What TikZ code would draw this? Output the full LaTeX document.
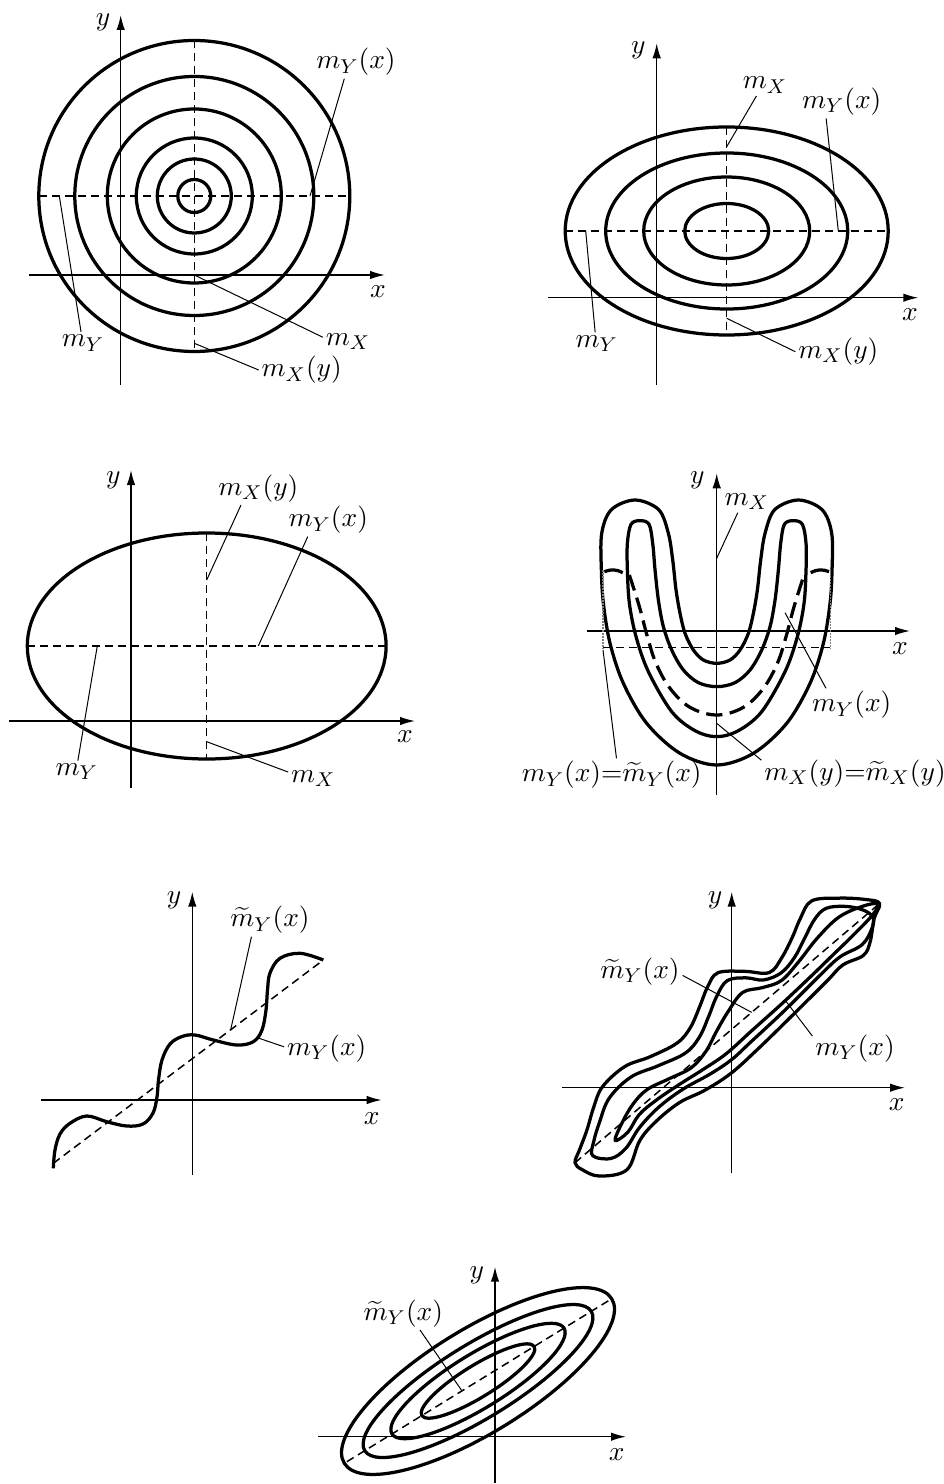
\documentclass[tikz,border=0pt]{standalone}
\usepackage{tikz}
\usetikzlibrary{arrows.meta}

\begin{document}
\begin{tikzpicture}[
		x=0.4pt, y=-0.4pt,
		axis/.style={-{Latex[length=6pt, width=3.4pt]}, line width=0.6pt},
		contour/.style={line width=1.3pt, line join=round},
		mean/.style={line width=0.6pt, dash pattern=on 3.2pt off 2pt},
		mean thick/.style={line width=1.3pt, dash pattern=on 6.5pt off 3pt},
		guide/.style={line width=0.5pt, gray, dash pattern=on 0.6pt off 0.6pt},
		leader/.style={line width=0.4pt},
		tag/.style={inner sep=1pt, font=\fontsize{11}{13}\selectfont},
	]
	\useasboundingbox (0,0) rectangle (943,1484);

	% Panel 1: circles
	\draw[axis] (29,275) -- (385,275);
	\draw[axis] (120.7,385) -- (120.7,15);
	\node[tag] (x 1) at (378,292) {$x$};
	\node[tag] (y 1) at (103,22) {$y$};
	\foreach \r in {155.5,119.5,87,58,37,16.5}
		\draw[contour] (194.3,196) circle[radius=\r];
	\draw[mean] (38.8,196) -- (349.8,196);
	\draw[mean] (194.3,40.5) -- (194.3,351.5);
	\coordinate (pt mYx 1) at (310,196);
	\coordinate (pt mY 1) at (59.3,196);
	\coordinate (pt mX 1) at (194.3,275);
	\coordinate (pt mXy 1) at (194.3,343.3);
	\node[tag] (mYx 1) at (356,62) {$m_Y(x)$};
	\node[tag] (mY 1) at (83,343) {$m_Y$};
	\node[tag] (mX 1) at (348,341.7) {$m_X$};
	\node[tag] (mXy 1) at (301.7,370) {$m_X(y)$};
	\draw[leader] (pt mYx 1) -- (mYx 1.235);
	\draw[leader] (pt mY 1) -- (mY 1.100);
	\draw[leader] (pt mX 1) -- (mX 1.170);
	\draw[leader] (pt mXy 1) -- (mXy 1.west);

	% Panel 2: ellipses
	\draw[axis] (548.3,297.7) -- (918.3,297.7);
	\draw[axis] (656.7,385) -- (656.7,43.3);
	\node[tag] (x 2) at (910,315) {$x$};
	\node[tag] (y 2) at (638.3,50) {$y$};
	\foreach \a/\b in {161.5/104,121/78,83/54,42/27.5}
		\draw[contour] (726.7,231) ellipse[x radius=\a, y radius=\b];
	\draw[mean] (565.2,231) -- (888.2,231);
	\draw[mean] (726.7,127) -- (726.7,335);
	\coordinate (pt mX 2) at (726.7,146.7);
	\coordinate (pt mYx 2) at (838.3,231);
	\coordinate (pt mY 2) at (585.7,231);
	\coordinate (pt mXy 2) at (726.7,318.3);
	\node[tag] (mX 2) at (765,85) {$m_X$};
	\node[tag] (mYx 2) at (841.7,101.7) {$m_Y(x)$};
	\node[tag] (mY 2) at (596.7,343.3) {$m_Y$};
	\node[tag] (mXy 2) at (838.3,351.7) {$m_X(y)$};
	\draw[leader] (pt mX 2) -- (mX 2.232);
	\draw[leader] (pt mYx 2) -- (mYx 2.227);
	\draw[leader] (pt mY 2) -- (mY 2.98);
	\draw[leader] (pt mXy 2) -- (mXy 2.west);

	% Panel 3: one ellipse
	\draw[axis] (9.3,721) -- (415,721);
	\draw[axis] (131,788.3) -- (131,470);
	\node[tag] (x 3) at (405,736.7) {$x$};
	\node[tag] (y 3) at (113.3,480) {$y$};
	\draw[contour] (206.7,646) ellipse[x radius=179.4, y radius=113];
	\draw[mean] (27.3,646) -- (386.1,646);
	\draw[mean] (206.7,533) -- (206.7,759);
	\coordinate (pt mXy 3) at (206.7,580);
	\coordinate (pt mYx 3) at (258.3,646);
	\coordinate (pt mY 3) at (97.3,646);
	\coordinate (pt mX 3) at (206.7,741.7);
	\node[tag] (mXy 3) at (258.3,488.3) {$m_X(y)$};
	\node[tag] (mYx 3) at (328.3,520) {$m_Y(x)$};
	\node[tag] (mY 3) at (76.7,771.7) {$m_Y$};
	\node[tag] (mX 3) at (313.3,778.3) {$m_X$};
	\draw[leader] (pt mXy 3) -- (mXy 3.224);
	\draw[leader] (pt mYx 3) -- (mYx 3.219);
	\draw[leader] (pt mY 3) -- (mY 3.84);
	\draw[leader] (pt mX 3) -- (mX 3.166);

	% Panel 4: U shaped band
	\draw[axis] (587.3,631) -- (910,631);
	\draw[axis] (716.7,795) -- (716.7,473.3);
	\node[tag] (x 4) at (900,648.3) {$x$};
	\node[tag] (y 4) at (697.3,480) {$y$};
	\begin{scope}[shift={(716.7,460)}, scale=1/3]
		\draw[contour] plot[smooth cycle, tension=0.55] coordinates {
			(0,610) (-40,600) (-70,570) (-95,520) (-110,460) (-122,390) (-132,300)
			(-145,220) (-174,149) (-245,120) (-316,149) (-345,220) (-346,330)
			(-340,430) (-320,550) (-280,670) (-210,790) (-110,880) (0,915)
			(110,880) (210,790) (280,670) (320,550) (340,430) (346,330)
			(345,220) (316,149) (245,120) (174,149) (145,220) (132,300)
			(122,390) (110,460) (95,520) (70,570) (40,600)};
		\draw[contour] plot[smooth cycle, tension=0.55] coordinates {
			(0,680) (-55,668) (-100,630) (-135,570) (-160,500) (-175,420) (-185,330)
			(-192,250) (-203,193) (-230,182) (-257,193) (-268,250) (-268,330)
			(-262,430) (-242,530) (-205,635) (-135,755) (-65,812) (0,830)
			(65,812) (135,755) (205,635) (242,530) (262,430) (268,330)
			(268,250) (257,193) (230,182) (203,193) (192,250) (185,330)
			(175,420) (160,500) (135,570) (100,630) (55,668)};
		\draw[mean thick] plot[smooth, tension=0.6] coordinates {
			(-262,345) (-232,440) (-208,530) (-182,610) (-140,685) (-80,742) (0,765)
			(80,742) (140,685) (182,610) (208,530) (232,440) (262,345)};
		\draw[contour] (-337,335) to[bend left=25] (-282,338);
		\draw[contour] (282,338) to[bend left=25] (337,335);
	\end{scope}
	\draw[guide] (603,570) -- (603,648.3);
	\draw[guide] (830.4,570) -- (830.4,648.3);
	\draw[mean] (603,647.7) -- (830.4,647.7);
	\coordinate (pt mX 4) at (716.7,558.3);
	\coordinate (pt mYx 4) at (785,612.7);
	\coordinate (pt mXyeq 4) at (716.7,723.3);
	\coordinate (pt mYxeq 4) at (603,650);
	\node[tag] (mX 4) at (746.7,501.7) {$m_X$};
	\node[tag] (mYx 4) at (851.7,705) {$m_Y(x)$};
	\node[tag] (mXyeq 4) at (855,773.3) {$m_X(y){=}\widetilde{m}_X(y)$};
	\node[tag] (mYxeq 4) at (611.7,775) {$m_Y(x){=}\widetilde{m}_Y(x)$};
	\draw[leader] (pt mX 4) -- (mX 4.231);
	\draw[leader] (pt mYx 4) -- (mYx 4.147);
	\draw[leader] (pt mXyeq 4) -- (mXyeq 4.172);
	\draw[leader] (pt mYxeq 4) -- (mYxeq 4.74);

	% Panel 5: wavy regression
	\draw[axis] (40.7,1100) -- (381.7,1100);
	\draw[axis] (192.3,1175) -- (192.3,891.7);
	\node[tag] (x 5) at (371.7,1118.3) {$x$};
	\node[tag] (y 5) at (174,900) {$y$};
	\draw[mean] (53.3,1163.3) -- (323.3,960);
	\draw[contour] plot[smooth, tension=0.6] coordinates {
		(53.3,1168.3) (55,1150) (60,1134) (70,1123.3) (86.7,1116) (106.7,1121.7)
		(126.7,1126) (143,1124) (153,1113) (157,1097) (158.5,1080) (162,1060)
		(170,1044) (182,1036.5) (195,1035) (213.3,1040) (236.7,1045) (253.3,1041.7)
		(262,1030) (266,1010) (267.5,990) (270,973) (280,958.3) (300,953.3) (323.3,960)};
	\coordinate (pt mt 5) at (230.7,1029.7);
	\coordinate (pt mYx 5) at (258.3,1038);
	\node[tag] (mt 5) at (270,920) {$\widetilde{m}_Y(x)$};
	\node[tag] (mYx 5) at (326.7,1048.3) {$m_Y(x)$};
	\draw[leader] (pt mt 5) -- (mt 5.222);
	\draw[leader] (pt mYx 5) -- (mYx 5.178);

	% Panel 6: wavy band
	\draw[axis] (561.7,1087.7) -- (905,1087.7);
	\draw[axis] (731.7,1173.3) -- (731.7,891.7);
	\node[tag] (x 6) at (896.7,1105) {$x$};
	\node[tag] (y 6) at (715,900) {$y$};
	\begin{scope}[shift={(575,1162.7)}, rotate=40.4, yscale=-1]
		\draw[mean] (0,0) -- (400,0);
		\draw[contour] plot[smooth cycle, tension=0.6] coordinates {
			(400,0) (392,12) (373,30) (350,46) (330,40) (312,31) (290,22) (271,19)
			(253,36) (232,52) (215,48) (196,38) (175,28) (155,25) (126,32) (100,41)
			(70,40) (50,30) (30,17) (12,7) (0,0) (1,-10) (10,-26) (35,-39) (64,-25)
			(90,-21) (119,-22) (146,-29) (177,-33) (212,-32) (257,-29) (309,-25)
			(332,-23) (354,-29) (368,-23) (386,-8)};
		\draw[contour] plot[smooth cycle, tension=0.6] coordinates {
			(18,-6) (28,4) (45,15) (68,27) (98,29) (126,20) (155,12) (176,15)
			(197,25) (216,35) (234,40) (250,30) (262,17) (280,11) (300,14) (320,22)
			(340,30) (356,31) (372,20) (383,6) (386,-6) (378,-14) (360,-20)
			(335,-15) (309,-16) (257,-20) (212,-22) (186,-23) (160,-20) (130,-14)
			(100,-12) (72,-15) (48,-22) (30,-20)};
		\draw[contour] plot[smooth cycle, tension=0.6] coordinates {
			(45,-9) (62,0) (82,7) (102,9) (126,3) (150,-3) (172,0) (192,8) (215,16)
			(238,21) (256,12) (275,5) (300,8) (330,14) (360,16) (385,9) (398,1)
			(388,-4) (360,-7) (330,-9) (300,-11) (260,-13) (220,-14) (186,-15)
			(158,-12) (130,-8) (102,-5) (80,-5) (60,-11)};
	\end{scope}
	\coordinate (pt mt 6) at (751.7,1012.4);
	\coordinate (pt mYx 6) at (785,1000);
	\node[tag] (mt 6) at (640,971.7) {$\widetilde{m}_Y(x)$};
	\node[tag] (mYx 6) at (855,1048.3) {$m_Y(x)$};
	\draw[leader] (pt mt 6) -- (mt 6.355);
	\draw[leader] (pt mYx 6) -- (mYx 6.164);

	% Panel 7: tilted ellipses
	\draw[axis] (318.3,1436.7) -- (626,1436.7);
	\draw[axis] (495,1483.3) -- (495,1266.7);
	\node[tag] (x 7) at (616.7,1455) {$x$};
	\node[tag] (y 7) at (476.7,1275) {$y$};
	\begin{scope}[shift={(478,1381)}, rotate=31.6]
		\foreach \a/\b in {157/52,133/37,101/27,66/16}
			\draw[contour] (0,0) ellipse[x radius=\a, y radius=\b];
		\draw[mean] (-154,0) -- (154,0);
	\end{scope}
	\coordinate (pt mt 7) at (461.7,1390.5);
	\node[tag] (mt 7) at (403.3,1313.3) {$\widetilde{m}_Y(x)$};
	\draw[leader] (pt mt 7) -- (mt 7.315);
\end{tikzpicture}
\end{document}
